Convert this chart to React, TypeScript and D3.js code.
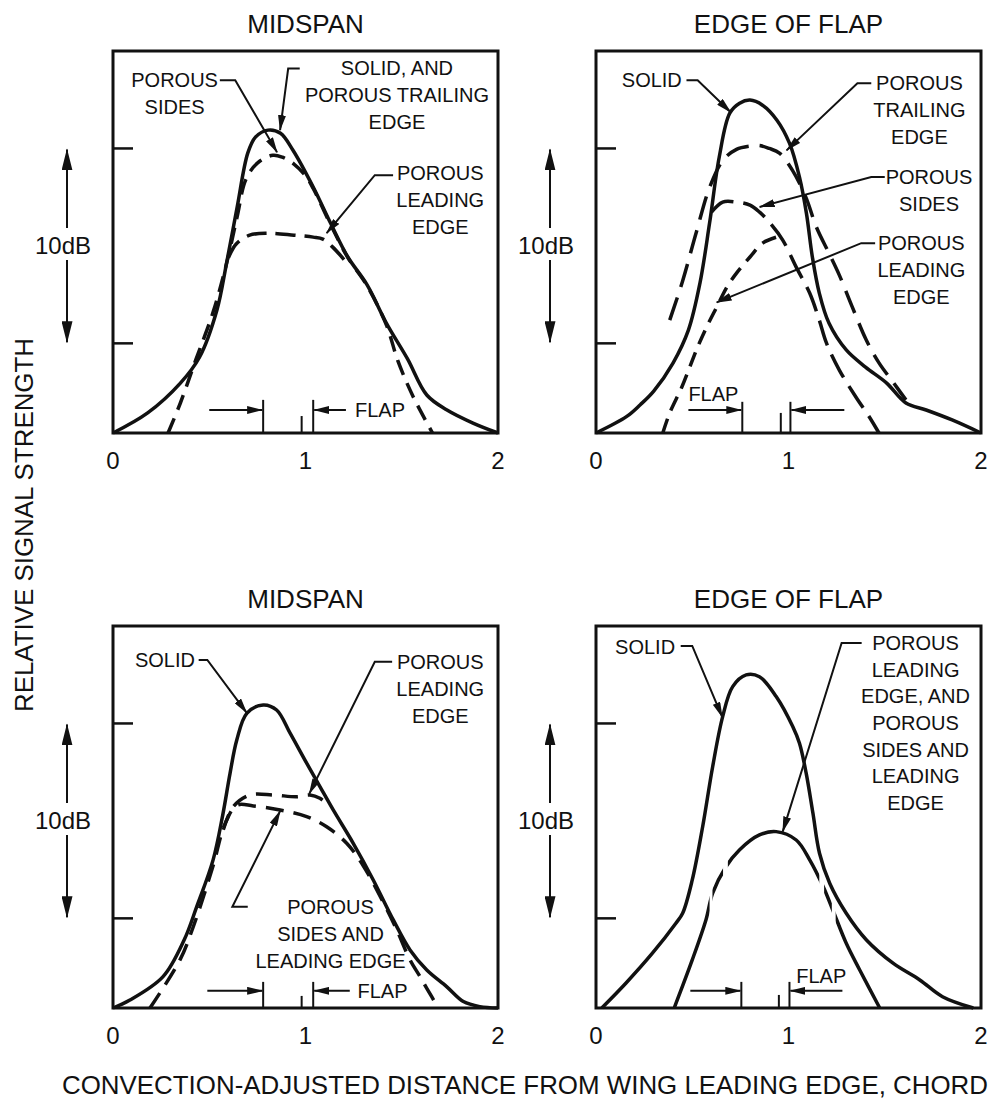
import React from 'react';
import * as d3 from 'd3';

type Pt = [number, number];

const xTicks = [0, 1, 2];
const yTicks = [0, 10];
const panelTitles = ['MIDSPAN', 'EDGE OF FLAP', 'MIDSPAN', 'EDGE OF FLAP'];
const yTitle = 'RELATIVE SIGNAL STRENGTH';
const xTitle = 'CONVECTION-ADJUSTED DISTANCE FROM WING LEADING EDGE, CHORD';
const scaleText = '10dB';
const flapText = 'FLAP';

// curves: [distance (chord), level (dB)]
const midTopSolid: Pt[] = [
  [0, -4.6], [0.18, -3.57], [0.35, -2.04], [0.45, -0.7], [0.54, 1.71], [0.59, 4.12],
  [0.645, 6.99], [0.7, 9.76], [0.74, 10.58], [0.805, 10.94], [0.87, 10.78], [0.935, 9.91],
  [1.04, 8.02], [1.13, 6.17], [1.22, 4.43], [1.32, 3.0], [1.42, 1.04], [1.53, -0.8],
  [1.63, -2.65], [1.735, -3.42], [1.87, -4.09], [2, -4.6],
];
const midTopSides: Pt[] = [
  [0.286, -4.6], [0.35, -3.06], [0.43, -0.85], [0.52, 1.6], [0.59, 4.1], [0.645, 6.5],
  [0.69, 8.4], [0.75, 9.25], [0.83, 9.65], [0.88, 9.55], [0.94, 9.2], [1.0, 8.6],
  [1.04, 7.95], [1.13, 6.1], [1.22, 4.4], [1.32, 2.95], [1.42, 0.95], [1.48, -0.9],
  [1.56, -2.75], [1.66, -4.6],
];
const midTopLeading: Pt[] = [
  [0.6, 4.4], [0.64, 5.1], [0.71, 5.55], [0.8, 5.65], [0.94, 5.55], [1.04, 5.45],
  [1.09, 5.35], [1.14, 4.95], [1.2, 4.3],
];

const flapTopSolid: Pt[] = [
  [0, -4.6], [0.16, -3.75], [0.23, -3.15], [0.3, -2.45], [0.4, -1.01], [0.48, 0.68],
  [0.54, 3.09], [0.59, 6.17], [0.64, 9.55], [0.695, 11.81], [0.746, 12.32], [0.8, 12.48],
  [0.865, 12.22], [0.94, 11.45], [1.005, 10.27], [1.057, 8.53], [1.093, 6.68],
  [1.124, 4.43], [1.16, 2.58], [1.21, 1.04], [1.3, -0.34], [1.4, -1.22], [1.51, -2.04],
  [1.61, -3.06], [1.715, -3.42], [1.85, -3.93], [2, -4.6],
];
const flapTopTrailing: Pt[] = [
  [0.383, 1.19], [0.45, 3.2], [0.52, 5.66], [0.59, 8.0], [0.66, 9.4], [0.73, 9.95],
  [0.8, 10.12], [0.85, 10.15], [0.9, 10.0], [0.953, 9.76], [1.02, 8.89], [1.09, 7.5],
  [1.145, 5.96], [1.21, 4.63], [1.264, 3.5], [1.33, 1.9], [1.404, 0.17], [1.47, -1.0],
  [1.54, -1.95], [1.61, -2.9],
];
const flapTopSides: Pt[] = [
  [0.6, 6.73], [0.658, 7.25], [0.73, 7.25], [0.8, 7.09], [0.85, 6.73], [0.9, 6.22],
  [0.97, 5.3], [1.04, 3.91], [1.11, 2.58], [1.16, 1.19], [1.197, 0.02], [1.264, -1.37],
  [1.35, -2.75], [1.42, -3.78], [1.47, -4.6],
];
const flapTopLeading: Pt[] = [
  [0.347, -4.6], [0.383, -3.57], [0.446, -2.24], [0.487, -1.22], [0.528, -0.19],
  [0.575, 0.84], [0.627, 1.86], [0.68, 2.89], [0.73, 3.6], [0.8, 4.43], [0.865, 5.14],
  [0.938, 5.45],
];

const midBotSolid: Pt[] = [
  [0, -4.6], [0.088, -4.19], [0.26, -2.99], [0.37, -1.1], [0.435, 0.6], [0.52, 3.0],
  [0.57, 5.3], [0.608, 7.44], [0.643, 9.15], [0.695, 10.52], [0.78, 10.95], [0.85, 10.69],
  [0.92, 9.5], [1.006, 7.96], [1.075, 6.76], [1.144, 5.56], [1.248, 3.85], [1.352, 1.97],
  [1.456, -0.08], [1.543, -1.62], [1.63, -2.65], [1.733, -3.5], [1.82, -4.27],
  [1.906, -4.53], [2, -4.6],
];
const midBotLeading: Pt[] = [
  [0.573, 4.54], [0.625, 5.73], [0.712, 6.33], [0.833, 6.33], [0.954, 6.24], [1.023, 6.33],
  [1.075, 6.16], [1.127, 5.73],
];
const midBotSidesLeading: Pt[] = [
  [0.192, -4.6], [0.348, -2.13], [0.417, -0.43], [0.52, 2.7], [0.58, 4.8], [0.643, 5.8],
  [0.729, 5.77], [0.868, 5.56], [1.006, 5.22], [1.11, 4.7], [1.214, 3.85], [1.3, 2.7],
  [1.4, 0.9], [1.47, -0.5], [1.543, -2.13], [1.595, -2.99], [1.63, -3.59], [1.69, -4.6],
];

const flapBotSolid: Pt[] = [
  [0.03, -4.6], [0.155, -3.33], [0.293, -1.79], [0.415, -0.25], [0.45, 0.26], [0.5, 1.97],
  [0.554, 4.7], [0.606, 7.78], [0.658, 10.35], [0.71, 11.89], [0.78, 12.49], [0.849, 12.4],
  [0.936, 11.38], [1.022, 9.84], [1.057, 8.98], [1.092, 7.44], [1.127, 5.39], [1.161, 3.34],
  [1.214, 1.8], [1.3, 0.26], [1.405, -1.11], [1.543, -2.3], [1.682, -3.16], [1.8, -4.02],
  [1.96, -4.6],
];
const flapBotPorous: Pt[] = [
  [0.406, -4.6], [0.5, -2.13], [0.571, -0.08], [0.606, 1.29], [0.675, 2.65], [0.745, 3.51],
  [0.849, 4.28], [0.936, 4.45], [1.04, 4.02], [1.11, 3.0], [1.18, 1.63], [1.23, 0.43],
  [1.3, -1.28], [1.37, -2.65], [1.474, -4.6],
];
// x-ranges where the broken line of that curve is inked
const flapBotPorousSpans: Pt[] = [
  [0.4, 0.59], [0.605, 0.66], [0.685, 1.16], [1.185, 1.225], [1.245, 1.5],
];

const FONT = "'Liberation Sans', Arial, Helvetica, sans-serif";
const INK = '#111';
const PW = 385;
const PH = 382;
const Y_DOMAIN: [number, number] = [-4.6, 15];
const LABEL_SIZE = 20;

interface Series { data: Pt[]; dash?: string; spans?: Pt[] }
interface Label { lines: string[]; x: number; y: number; lh?: number; leader: Pt[]; arrow?: boolean }
interface Flap { edges: Pt; mid: number; tails: Pt; y: number; markTop: number; midTop: number; text: Pt; anchor: 'start' | 'middle' }
interface PanelCfg { left: number; top: number; title: string; series: Series[]; labels: Label[]; flap: Flap }

const panels: PanelCfg[] = [
  {
    left: 113, top: 51, title: panelTitles[0],
    series: [
      { data: midTopSolid },
      { data: midTopSides, dash: '16 9' },
      { data: midTopLeading, dash: '20 9' },
    ],
    labels: [
      { lines: ['POROUS', 'SIDES'], x: 0.32, y: 13.14, leader: [[0.555, 13.5], [0.635, 13.5], [0.852, 9.81]], arrow: true },
      { lines: ['SOLID, AND', 'POROUS TRAILING', 'EDGE'], x: 1.475, y: 13.76, leader: [[0.97, 14.1], [0.91, 14.1], [0.868, 10.94]], arrow: true },
      { lines: ['POROUS', 'LEADING', 'EDGE'], x: 1.7, y: 8.37, leader: [[1.455, 8.63], [1.36, 8.63], [1.11, 5.66]], arrow: true },
    ],
    flap: { edges: [0.78, 1.04], mid: 0.98, tails: [0.5, 1.21], y: -3.42, markTop: -2.9, midTop: -3.73, text: [1.257, -3.78], anchor: 'start' },
  },
  {
    left: 596, top: 51, title: panelTitles[1],
    series: [
      { data: flapTopSolid },
      { data: flapTopTrailing, dash: '24 11' },
      { data: flapTopSides, dash: '26 10' },
      { data: flapTopLeading, dash: '15 9' },
    ],
    labels: [
      { lines: ['SOLID'], x: 0.29, y: 13.14, leader: [[0.47, 13.5], [0.528, 13.5], [0.7, 11.86]], arrow: true },
      { lines: ['POROUS', 'TRAILING', 'EDGE'], x: 1.68, y: 12.99, leader: [[1.43, 13.35], [1.358, 13.35], [0.99, 9.9]], arrow: true },
      { lines: ['POROUS', 'SIDES'], x: 1.73, y: 8.17, leader: [[1.5, 8.53], [1.43, 8.53], [0.85, 7.0]], arrow: true },
      { lines: ['POROUS', 'LEADING', 'EDGE'], x: 1.69, y: 4.78, leader: [[1.45, 5.14], [1.378, 5.14], [0.627, 2.1]], arrow: true },
    ],
    flap: { edges: [0.76, 1.01], mid: 0.96, tails: [0.48, 1.29], y: -3.42, markTop: -3.0, midTop: -3.57, text: [0.61, -2.96], anchor: 'middle' },
  },
  {
    left: 113, top: 626, title: panelTitles[2],
    series: [
      { data: midBotSolid },
      { data: midBotLeading, dash: '16 10' },
      { data: midBotSidesLeading, dash: '18 10' },
    ],
    labels: [
      { lines: ['SOLID'], x: 0.27, y: 12.9, leader: [[0.445, 13.26], [0.49, 13.26], [0.695, 10.54]], arrow: true },
      { lines: ['POROUS', 'LEADING', 'EDGE'], x: 1.7, y: 12.8, leader: [[1.45, 13.16], [1.36, 13.16], [1.02, 6.4]], arrow: true },
      { lines: ['POROUS', 'SIDES AND', 'LEADING EDGE'], x: 1.13, y: 0.23, leader: [[0.7, 0.59], [0.62, 0.59], [0.868, 5.5]], arrow: true },
    ],
    flap: { edges: [0.78, 1.04], mid: 0.98, tails: [0.49, 1.23], y: -3.72, markTop: -3.26, midTop: -3.98, text: [1.27, -4.08], anchor: 'start' },
  },
  {
    left: 596, top: 626, title: panelTitles[3],
    series: [
      { data: flapBotSolid },
      { data: flapBotPorous, spans: flapBotPorousSpans },
    ],
    labels: [
      { lines: ['SOLID'], x: 0.255, y: 13.57, leader: [[0.44, 13.98], [0.5, 13.98], [0.656, 10.33]], arrow: true },
      {
        lines: ['POROUS', 'LEADING', 'EDGE, AND', 'POROUS', 'SIDES AND', 'LEADING', 'EDGE'],
        x: 1.66, y: 13.77, lh: 26.7, leader: [[1.38, 14.13], [1.276, 14.13], [0.97, 4.45]], arrow: true,
      },
    ],
    flap: { edges: [0.755, 1.005], mid: 0.95, tails: [0.49, 1.28], y: -3.72, markTop: -3.26, midTop: -3.93, text: [1.17, -3.31], anchor: 'middle' },
  },
];

function Panel({ cfg, id }: { cfg: PanelCfg; id: number }) {
  const x = d3.scaleLinear().domain([0, 2]).range([cfg.left, cfg.left + PW]);
  const y = d3.scaleLinear().domain(Y_DOMAIN).range([cfg.top + PH, cfg.top]);
  const smooth = d3.line<Pt>().x((d) => x(d[0])).y((d) => y(d[1])).curve(d3.curveCatmullRom.alpha(0.5));
  const straight = d3.line<Pt>().x((d) => x(d[0])).y((d) => y(d[1]));
  const base = y(Y_DOMAIN[0]);
  const f = cfg.flap;
  const mid = (y(0) + y(10)) / 2;
  const ax = cfg.left - 46;

  return (
    <g>
      <text x={x(1)} y={cfg.top - 18} textAnchor="middle" fontSize={26}>{cfg.title}</text>

      {/* 10 dB scale bar */}
      <line x1={ax} x2={ax} y1={mid - 18} y2={y(10) + 1} stroke={INK} strokeWidth={2} markerEnd="url(#arrowB)" />
      <line x1={ax} x2={ax} y1={mid + 14} y2={y(0) - 1} stroke={INK} strokeWidth={2} markerEnd="url(#arrowB)" />
      <text x={cfg.left - 50} y={mid + 8.5} textAnchor="middle" fontSize={24}>{scaleText}</text>

      <rect x={cfg.left} y={cfg.top} width={PW} height={PH} fill="none" stroke={INK} strokeWidth={3} />
      {yTicks.map((t) => (
        <line key={t} x1={cfg.left} x2={cfg.left + 20} y1={y(t)} y2={y(t)} stroke={INK} strokeWidth={2.5} />
      ))}
      {xTicks.map((t) => (
        <text key={t} x={x(t)} y={base + 36} textAnchor="middle" fontSize={24}>{t}</text>
      ))}

      {cfg.series.map((s, i) => {
        const clipId = `clip-${id}-${i}`;
        return (
          <g key={i}>
            {s.spans && (
              <clipPath id={clipId}>
                {s.spans.map(([a, b], j) => (
                  <rect key={j} x={x(a)} y={cfg.top - 5} width={x(b) - x(a)} height={PH + 10} />
                ))}
              </clipPath>
            )}
            <path
              d={smooth(s.data) || ''}
              fill="none"
              stroke={INK}
              strokeWidth={3.5}
              strokeDasharray={s.dash}
              clipPath={s.spans ? `url(#${clipId})` : undefined}
            />
          </g>
        );
      })}

      {/* flap extent marker */}
      {f.edges.map((e) => (
        <line key={e} x1={x(e)} x2={x(e)} y1={y(f.markTop)} y2={base} stroke={INK} strokeWidth={2} />
      ))}
      <line x1={x(f.mid)} x2={x(f.mid)} y1={y(f.midTop)} y2={base} stroke={INK} strokeWidth={2} />
      <line x1={x(f.tails[0])} x2={x(f.edges[0]) - 1} y1={y(f.y)} y2={y(f.y)} stroke={INK} strokeWidth={2} markerEnd="url(#arrowS)" />
      <line x1={x(f.tails[1])} x2={x(f.edges[1]) + 1} y1={y(f.y)} y2={y(f.y)} stroke={INK} strokeWidth={2} markerEnd="url(#arrowS)" />
      <text x={x(f.text[0])} y={y(f.text[1])} textAnchor={f.anchor} fontSize={LABEL_SIZE}>{flapText}</text>

      {cfg.labels.map((l, i) => (
        <g key={i}>
          <path d={straight(l.leader) || ''} fill="none" stroke={INK} strokeWidth={2} markerEnd={l.arrow ? 'url(#arrowS)' : undefined} />
          {l.lines.map((s, j) => (
            <text key={j} x={x(l.x)} y={y(l.y) + j * (l.lh || 27)} textAnchor="middle" fontSize={LABEL_SIZE}>{s}</text>
          ))}
        </g>
      ))}
    </g>
  );
}

export default function App() {
  return (
    <svg
      width={994}
      height={1120}
      style={{ position: 'absolute', left: 0, top: 0, background: '#fff' }}
      fontFamily={FONT}
      fill={INK}
    >
      <defs>
        <marker id="arrowS" viewBox="0 0 16 8" refX={15} refY={4} markerWidth={16} markerHeight={8} markerUnits="userSpaceOnUse" orient="auto">
          <path d="M0,0 L16,4 L0,8 Z" fill={INK} />
        </marker>
        <marker id="arrowB" viewBox="0 0 22 11" refX={21} refY={5.5} markerWidth={22} markerHeight={11} markerUnits="userSpaceOnUse" orient="auto">
          <path d="M0,0 L22,5.5 L0,11 Z" fill={INK} />
        </marker>
      </defs>
      <rect width={994} height={1120} fill="#fff" />
      {panels.map((p, i) => (
        <Panel key={i} cfg={p} id={i} />
      ))}
      <text transform="translate(33,525) rotate(-90)" textAnchor="middle" fontSize={26} textLength={374} lengthAdjust="spacingAndGlyphs">
        {yTitle}
      </text>
      <text x={62} y={1094} fontSize={26} textLength={926} lengthAdjust="spacingAndGlyphs">
        {xTitle}
      </text>
    </svg>
  );
}
